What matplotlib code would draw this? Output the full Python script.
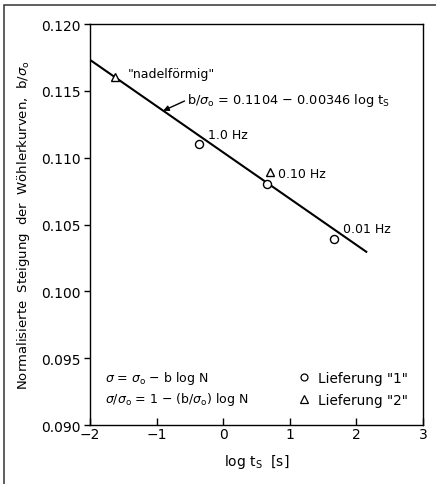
import matplotlib
matplotlib.use("Agg")
import matplotlib.pyplot as plt
from matplotlib.patches import Rectangle
from matplotlib.lines import Line2D
import numpy as np

plt.rcParams['font.family'] = ['DejaVu Sans']
plt.rcParams['mathtext.fontset'] = 'dejavusans'

# Data
lief1_x = [-0.37, 0.66, 1.67]
lief1_y = [0.1110, 0.1080, 0.1039]
lief2_x = [-1.63, 0.70]
lief2_y = [0.1160, 0.1089]
fit_a = 0.1104
fit_b = 0.00346
fit_range = [-2.0, 2.15]
xticks = [-2, -1, 0, 1, 2, 3]
yticks = [0.090, 0.095, 0.100, 0.105, 0.110, 0.115, 0.120]

fig = plt.figure(figsize=(4.36, 4.85), dpi=100)
ax = fig.add_axes([0.2064, 0.1216, 0.7635, 0.8268])

fx = np.array(fit_range)
ax.plot(fx, fit_a - fit_b * fx, color='black', lw=1.5, zorder=2)
ax.plot(lief1_x, lief1_y, 'o', ms=5.8, mfc='white', mec='black', mew=1.0, zorder=3, ls='none')
ax.plot(lief2_x, lief2_y, '^', ms=6, mfc='white', mec='black', mew=1.0, zorder=3, ls='none')

ax.set_xlim(-2, 3)
ax.set_ylim(0.090, 0.120)
ax.set_xticks(xticks)
ax.set_xticklabels(['\u22122', '\u22121', '0', '1', '2', '3'])
ax.set_yticks(yticks)
ax.set_yticklabels([f'{v:.3f}' for v in yticks])
ax.tick_params(axis='x', direction='in', length=5, width=1.0, labelsize=10, pad=1.5)
ax.tick_params(axis='y', direction='out', length=4, width=1.0, labelsize=10, pad=3)
for s in ax.spines.values():
    s.set_linewidth(1.0)

ax.set_xlabel(r'log $\mathrm{t_S}$  [s]', fontsize=10, labelpad=8)
ax.set_ylabel(r'Normalisierte  Steigung  der  Wöhlerkurven,  b/$\sigma_\mathrm{o}$', fontsize=9.5, labelpad=6)

fs = 9
ax.text(-1.43, 0.11633, '"nadelförmig"', fontsize=fs, ha='left', va='center')
ax.text(-0.23, 0.1117, '1.0 Hz', fontsize=fs, ha='left', va='center')
ax.text(0.82, 0.10885, '0.10 Hz', fontsize=fs, ha='left', va='center')
ax.text(1.80, 0.10474, '0.01 Hz', fontsize=fs, ha='left', va='center')
ax.text(-0.54, 0.11439, r'b/$\sigma_\mathrm{o}$ = 0.1104 $-$ 0.00346 log $\mathrm{t_S}$',
        fontsize=9.3, ha='left', va='center')
ax.annotate('', xy=(-0.90, fit_a + fit_b * 0.90), xytext=(-0.58, 0.11424),
            arrowprops=dict(arrowstyle='-|>', color='black', lw=1.0, mutation_scale=8,
                            shrinkA=0, shrinkB=0))

ax.text(-1.775, 0.09359, r'$\sigma$ = $\sigma_\mathrm{o}$ $-$ b log N', fontsize=fs, ha='left', va='center')
ax.text(-1.775, 0.09202, r'$\sigma$/$\sigma_\mathrm{o}$ = 1 $-$ (b/$\sigma_\mathrm{o}$) log N', fontsize=fs, ha='left', va='center')

handles = [Line2D([], [], marker='o', ls='none', ms=5, mfc='white', mec='black', mew=0.9),
           Line2D([], [], marker='^', ls='none', ms=5.5, mfc='white', mec='black', mew=0.9)]
ax.legend(handles, ['Lieferung "1"', 'Lieferung "2"'], loc='lower right',
          bbox_to_anchor=(0.985, 0.022), frameon=False, fontsize=9.8,
          handlelength=1.0, handletextpad=0.55, labelspacing=0.55, borderpad=0.2)

top = 1 - 6/485
fig.patches.append(Rectangle((4/436, -0.1), 1.2, top + 0.1, transform=fig.transFigure,
                             fill=False, ec='#333333', lw=1.1, clip_on=False))

fig.savefig('out.png', dpi=100)
